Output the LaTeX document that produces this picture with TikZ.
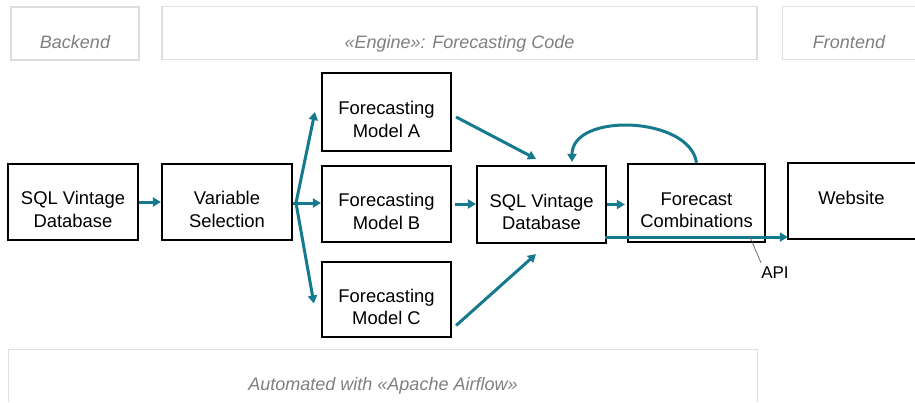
\documentclass[tikz,border=0pt]{standalone}
\usepackage{fontspec}
\setmainfont{Liberation Sans}
\usetikzlibrary{arrows.meta}
\definecolor{teal1}{RGB}{22,122,142}
\definecolor{hdrgray}{RGB}{222,222,222}
\definecolor{hdrtext}{RGB}{128,128,128}
\definecolor{apigray}{RGB}{100,100,100}
\tikzset{
  box/.style={draw=black, line width=2.2pt, inner sep=0pt, fill=white},
  boxtext/.style={font=\fontsize{18.4}{22.5}\selectfont, align=center, yshift=-7.5pt, inner sep=0pt},
  arr/.style={draw=teal1, line width=3pt, -{Triangle[length=8pt,width=9pt]}},
  tealline/.style={draw=teal1, line width=3pt},
  hdr/.style={draw=hdrgray, line width=1.2pt, inner sep=0pt},
  hdrside/.style={draw=hdrgray, line width=1.2pt},
  hdrtxt/.style={font=\fontsize{18}{22}\selectfont\itshape, text=hdrtext, anchor=base, inner sep=0pt},
  plaintxt/.style={font=\fontsize{18.4}{22.5}\selectfont, anchor=base, inner sep=0pt}
}
\begin{document}
\begin{tikzpicture}[x=1pt,y=-1pt]
\useasboundingbox (0,0) rectangle (915,402);
\fill[white] (0,0) rectangle (915,402);

% header / footer frames
\node[hdr, minimum width=128pt, minimum height=53pt] (hb) at (75,33.5) {};
\node[hdrtxt] (hbt) at (75,48.5) {Backend};
\node[hdr, minimum width=595pt, minimum height=53pt] (he) at (459.5,33) {};
\node[hdrtxt] (het) at (459.5,48.5) {«Engine»: Forecasting Code};
\node[minimum width=132pt, minimum height=53pt, inner sep=0pt] (hf) at (849,33) {};
\draw[hdrside] (hf.north east) -- (hf.north west) -- (hf.south west) -- (hf.south east);
\node[hdrtxt] (hft) at (849,48.5) {Frontend};
\node[minimum width=748pt, minimum height=52pt, inner sep=0pt] (ha) at (383,376) {};
\draw[hdrside] (ha.south west) -- (ha.north west) -- (ha.north east) -- (ha.south east);
\node[hdrtxt] (hat) at (383,390) {Automated with «Apache Airflow»};

% process boxes
\node[box, minimum width=130pt, minimum height=76pt, label={[boxtext,name=sql1t]center:SQL Vintage\\Database}] (sql1) at (73,202) {};
\node[box, minimum width=130pt, minimum height=76pt, label={[boxtext,name=vart]center:Variable\\Selection}] (var) at (227,202) {};
\node[box, minimum width=129pt, minimum height=78pt, label={[boxtext,name=mat]center:Forecasting\\Model A}] (ma) at (386.5,112) {};
\node[box, minimum width=129pt, minimum height=76pt, label={[boxtext,name=mbt]center:Forecasting\\Model B}] (mb) at (386.5,204) {};
\node[box, minimum width=129pt, minimum height=75pt, label={[boxtext,name=mct]center:Forecasting\\Model C}] (mc) at (386.5,299.5) {};
\node[box, minimum width=129pt, minimum height=77pt, label={[boxtext,name=sql2t]center:SQL Vintage\\Database}] (sql2) at (541.5,204.5) {};
\node[box, minimum width=137pt, minimum height=78pt, label={[boxtext,name=fct]center:Forecast\\Combinations}] (fc) at (696.5,203) {};
\node[minimum width=127pt, minimum height=76pt, inner sep=0pt, fill=white] (web) at (851.5,201) {};
\draw[line width=2.2pt] (web.north east) -- (web.north west) -- (web.south west) -- (web.south east);
\node[plaintxt] (webt) at (851.5,204) {Website};

% connectors
\coordinate (fork) at (296,203);
\draw[arr] (sql1.east) -- (var.west);
\draw[tealline] (var.east |- fork) -- (fork);
\draw[arr] (fork) -- ([xshift=-6pt]ma.west);
\draw[arr] (fork) -- (fork -| mb.west);
\draw[arr] (fork) -- ([shift={(-7,4)}]mc.west);

\draw[arr] ([shift={(4,5)}]ma.east) -- ([shift={(-5.5,-6)}]sql2.north);
\draw[arr] ([xshift=3pt]mb.east) -- (mb.east -| sql2.west);
\draw[arr] ([shift={(4,26)}]mc.east) -- ([shift={(-5.5,10)}]sql2.south);

\draw[arr] (sql2.east) -- ([xshift=-2pt]sql2.east -| fc.west);
\coordinate (wstart) at ([shift={(-2,-7)}]sql2.south east);
\draw[arr] (wstart) -- (wstart -| web.west);
\draw[arr] (fc.north) .. controls (690,116) and (572,112) .. ([shift={(30.5,-3)}]sql2.north);

% API label
\node[font=\fontsize{17}{20}\selectfont, anchor=base, inner sep=0pt] (api) at (775,278) {API};
\coordinate (apipt) at (750,237);
\draw[apigray, line width=0.7pt] (apipt) -- ([shift={(0,-3)}]api.north west);
\end{tikzpicture}
\end{document}
